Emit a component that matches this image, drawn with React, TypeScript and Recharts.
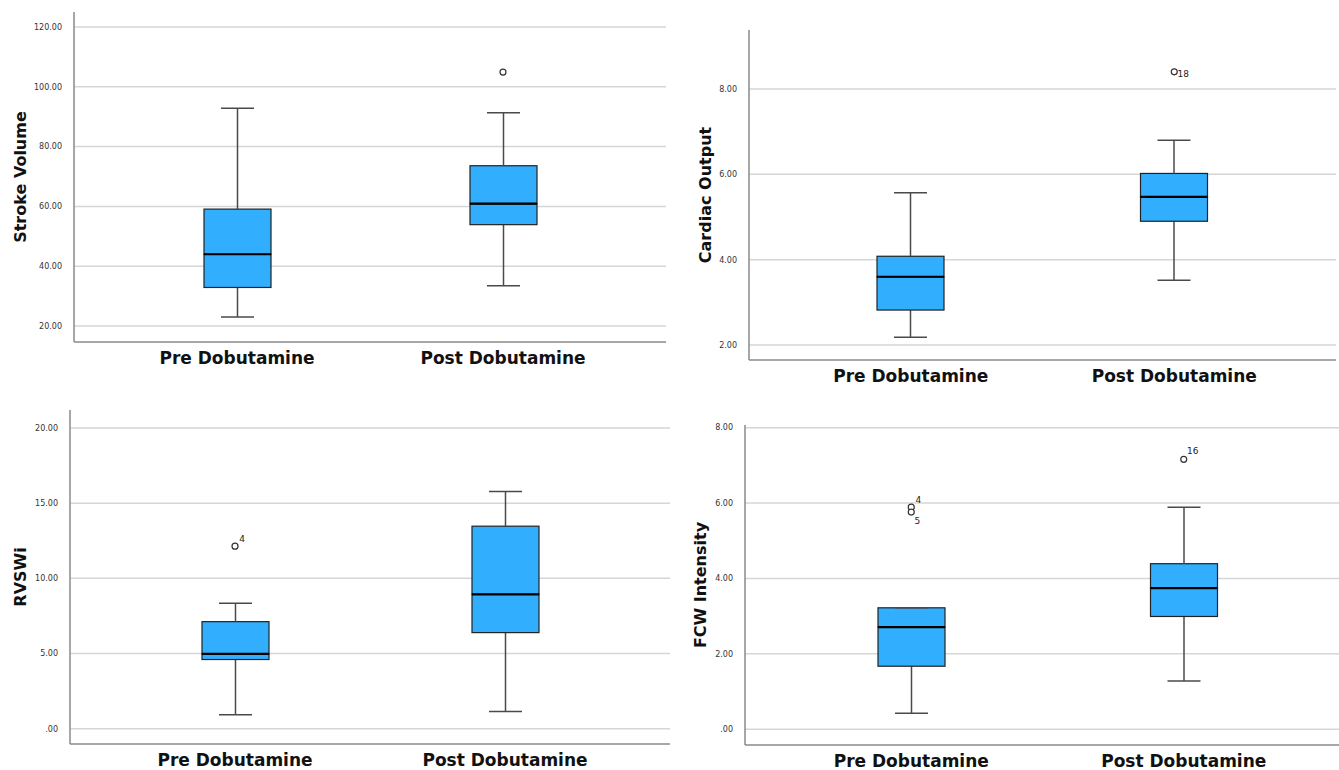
import React from 'react';
import { ComposedChart, Bar, Scatter, XAxis, YAxis, CartesianGrid, Label } from 'recharts';

const categories = ['Pre Dobutamine', 'Post Dobutamine'];

// Stroke Volume
const strokeMin = [23.0, 33.5];
const strokeQ1 = [32.9, 53.9];
const strokeMedian = [44.0, 60.9];
const strokeQ3 = [59.1, 73.6];
const strokeMax = [92.8, 91.3];
const strokeOutliers = [[], [104.9]];
const strokeOutlierIds = [[], ['']];
const strokeTicks = [20, 40, 60, 80, 100, 120];

// Cardiac Output
const cardiacMin = [2.18, 3.52];
const cardiacQ1 = [2.82, 4.9];
const cardiacMedian = [3.6, 5.47];
const cardiacQ3 = [4.08, 6.02];
const cardiacMax = [5.57, 6.8];
const cardiacOutliers = [[], [8.4]];
const cardiacOutlierIds = [[], ['18']];
const cardiacTicks = [2, 4, 6, 8];

// RVSWi
const rvswiMin = [0.92, 1.15];
const rvswiQ1 = [4.6, 6.39];
const rvswiMedian = [4.97, 8.94];
const rvswiQ3 = [7.12, 13.47];
const rvswiMax = [8.34, 15.78];
const rvswiOutliers = [[12.14], []];
const rvswiOutlierIds = [['4'], []];
const rvswiTicks = [0, 5, 10, 15, 20];

// FCW Intensity
const fcwMin = [0.42, 1.28];
const fcwQ1 = [1.67, 2.99];
const fcwMedian = [2.71, 3.74];
const fcwQ3 = [3.22, 4.39];
const fcwMax = [3.22, 5.89];
const fcwOutliers = [[5.89, 5.76], [7.16]];
const fcwOutlierIds = [['4', '5'], ['16']];
const fcwTicks = [0, 2, 4, 6, 8];

const FONT = '"DejaVu Sans", Verdana, sans-serif';
const BOX_FILL = '#31aefd';
const BOX_W = 67;
const CAP_W = 33;

// where the case number sits next to an outlier circle
const ID_OFFSET: Record<string, [number, number]> = {
  '18': [9, 2],
  '4': [7, -7],
  '5': [6, 9],
  '16': [9, -8],
};

function buildRows(min: number[], q1: number[], med: number[], q3: number[], max: number[], outs: number[][], ids: string[][]) {
  return categories.map((cat, i) => ({
    cat,
    base: min[i],
    lowWhisker: q1[i] - min[i],
    lowBox: med[i] - q1[i],
    highBox: q3[i] - med[i],
    highWhisker: max[i] - q3[i],
    out0: outs[i][0],
    out1: outs[i][1],
    id0: ids[i][0],
    id1: ids[i][1],
  }));
}

const fmt = (v: number) => (v === 0 ? '.00' : v.toFixed(2));

const Nothing = () => <g />;

const WhiskerLow = (p: any) => {
  const cx = p.x + p.width / 2;
  const bottom = p.y + p.height;
  return (
    <g stroke="#4a4a4a" strokeWidth={1.5}>
      <line x1={cx} x2={cx} y1={p.y} y2={bottom} />
      <line x1={cx - CAP_W / 2} x2={cx + CAP_W / 2} y1={bottom} y2={bottom} />
    </g>
  );
};

const WhiskerHigh = (p: any) => {
  const cx = p.x + p.width / 2;
  return (
    <g stroke="#4a4a4a" strokeWidth={1.5}>
      <line x1={cx} x2={cx} y1={p.y} y2={p.y + p.height} />
      <line x1={cx - CAP_W / 2} x2={cx + CAP_W / 2} y1={p.y} y2={p.y} />
    </g>
  );
};

const BoxLow = (p: any) => (
  <rect x={p.x} y={p.y} width={p.width} height={p.height} fill={BOX_FILL} stroke="#222" strokeWidth={1.2} />
);

const BoxHigh = (p: any) => (
  <g>
    <rect x={p.x} y={p.y} width={p.width} height={p.height} fill={BOX_FILL} stroke="#222" strokeWidth={1.2} />
    <line x1={p.x} x2={p.x + p.width} y1={p.y + p.height} y2={p.y + p.height} stroke="#000" strokeWidth={2.2} />
  </g>
);

const makeOutlier = (k: number) => (p: any) => {
  const v = p.payload ? p.payload['out' + k] : undefined;
  if (v === undefined || v === null || p.cy == null) return <g />;
  const id = p.payload['id' + k];
  const off = ID_OFFSET[id] || [8, -6];
  return (
    <g>
      <circle cx={p.cx} cy={p.cy} r={3} fill="#fff" stroke="#333" strokeWidth={1.2} />
      {id ? (
        <text x={p.cx + off[0]} y={p.cy + off[1]} fontSize={9} fontFamily={FONT} fill="#222" textAnchor="middle" dominantBaseline="central">
          {id}
        </text>
      ) : null}
    </g>
  );
};

interface PanelProps {
  rows: any[];
  domain: [number, number];
  ticks: number[];
  title: string;
  left: number;
  top: number;
  width: number;
  height: number;
  margin: { top: number; right: number; bottom: number; left: number };
  yAxisWidth: number;
  xAxisHeight: number;
  titleDx: number;
}

function BoxPanel(props: PanelProps) {
  const { rows, domain, ticks, title, left, top, width, height, margin, yAxisWidth, xAxisHeight, titleDx } = props;
  return (
    <div style={{ position: 'absolute', left, top }}>
      <ComposedChart width={width} height={height} data={rows} margin={margin}>
        <CartesianGrid horizontal vertical={false} horizontalValues={ticks} stroke="#d6d6d6" strokeWidth={1.5} />
        <XAxis
          dataKey="cat"
          type="category"
          padding={{ left: 30, right: 30 }}
          height={xAxisHeight}
          tickLine={false}
          tickMargin={4}
          axisLine={{ stroke: '#8a8a8a', strokeWidth: 1.5 }}
          tick={{ fontSize: 17, fontWeight: 'bold', fill: '#111', fontFamily: FONT }}
        />
        <YAxis
          type="number"
          domain={domain}
          ticks={ticks}
          allowDataOverflow
          width={yAxisWidth}
          tickFormatter={fmt}
          tickLine={false}
          tickSize={0}
          tickMargin={12}
          axisLine={{ stroke: '#8a8a8a', strokeWidth: 1.5 }}
          tick={{ fontSize: 8, fill: '#333', fontFamily: FONT }}
        >
          <Label
            value={title}
            angle={-90}
            position="center"
            dx={titleDx}
            style={{ fontSize: 16, fontWeight: 'bold', fill: '#111', fontFamily: FONT }}
          />
        </YAxis>
        <Bar dataKey="base" stackId="box" barSize={BOX_W} shape={Nothing} isAnimationActive={false} />
        <Bar dataKey="lowWhisker" stackId="box" barSize={BOX_W} shape={WhiskerLow} isAnimationActive={false} />
        <Bar dataKey="lowBox" stackId="box" barSize={BOX_W} shape={BoxLow} isAnimationActive={false} />
        <Bar dataKey="highBox" stackId="box" barSize={BOX_W} shape={BoxHigh} isAnimationActive={false} />
        <Bar dataKey="highWhisker" stackId="box" barSize={BOX_W} shape={WhiskerHigh} isAnimationActive={false} />
        <Scatter dataKey="out0" shape={makeOutlier(0)} isAnimationActive={false} />
        <Scatter dataKey="out1" shape={makeOutlier(1)} isAnimationActive={false} />
      </ComposedChart>
    </div>
  );
}

export default function App() {
  const strokeRows = buildRows(strokeMin, strokeQ1, strokeMedian, strokeQ3, strokeMax, strokeOutliers, strokeOutlierIds);
  const cardiacRows = buildRows(cardiacMin, cardiacQ1, cardiacMedian, cardiacQ3, cardiacMax, cardiacOutliers, cardiacOutlierIds);
  const rvswiRows = buildRows(rvswiMin, rvswiQ1, rvswiMedian, rvswiQ3, rvswiMax, rvswiOutliers, rvswiOutlierIds);
  const fcwRows = buildRows(fcwMin, fcwQ1, fcwMedian, fcwQ3, fcwMax, fcwOutliers, fcwOutlierIds);

  return (
    <div style={{ position: 'fixed', left: 0, top: 0, width: 1339, height: 770, overflow: 'hidden', background: '#fff' }}>
      <BoxPanel
        rows={strokeRows}
        domain={[14.67, 125]}
        ticks={strokeTicks}
        title="Stroke Volume"
        left={0}
        top={0}
        width={680}
        height={380}
        margin={{ top: 12, right: 14, bottom: 8, left: 0 }}
        yAxisWidth={74}
        xAxisHeight={30}
        titleDx={-17}
      />
      <BoxPanel
        rows={cardiacRows}
        domain={[1.65, 9.38]}
        ticks={cardiacTicks}
        title="Cardiac Output"
        left={670}
        top={0}
        width={680}
        height={400}
        margin={{ top: 30, right: 14, bottom: 10, left: 0 }}
        yAxisWidth={79}
        xAxisHeight={30}
        titleDx={-4.5}
      />
      <BoxPanel
        rows={rvswiRows}
        domain={[-1.02, 21.2]}
        ticks={rvswiTicks}
        title="RVSWi"
        left={0}
        top={390}
        width={684}
        height={380}
        margin={{ top: 20, right: 14, bottom: 0, left: 0 }}
        yAxisWidth={70}
        xAxisHeight={26}
        titleDx={-15}
      />
      <BoxPanel
        rows={fcwRows}
        domain={[-0.42, 8.07]}
        ticks={fcwTicks}
        title="FCW Intensity"
        left={670}
        top={390}
        width={700}
        height={380}
        margin={{ top: 35, right: 20, bottom: 0, left: 0 }}
        yAxisWidth={75}
        xAxisHeight={25}
        titleDx={-7.5}
      />
    </div>
  );
}
